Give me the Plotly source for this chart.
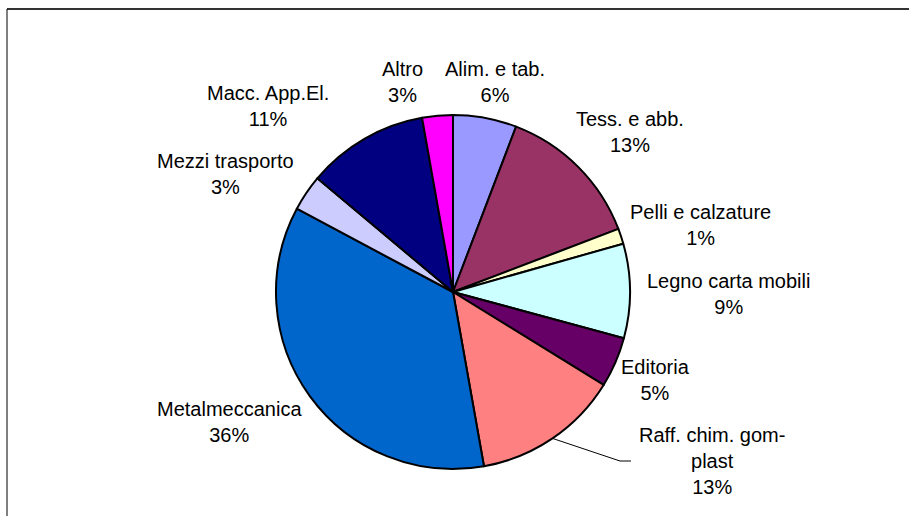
import math
import plotly.graph_objects as go

# dati del grafico
settori = ['Alim. e tab.', 'Tess. e abb.', 'Pelli e calzature', 'Legno carta mobili', 'Editoria',
           'Raff. chim. gom-<br>plast', 'Metalmeccanica', 'Mezzi trasporto', 'Macc. App.El.', 'Altro']
valori = [5.8, 13.4, 1.4, 8.6, 4.6, 13.4, 35.6, 3.3, 11.1, 2.8]
percentuali = ['6%', '13%', '1%', '9%', '5%', '13%', '36%', '3%', '11%', '3%']
colori = ['#9999FF', '#993366', '#FFFFCC', '#CCFFFF', '#660066',
          '#FF8080', '#0066CC', '#CCCCFF', '#000080', '#FF00FF']

W, H = 909, 516
CX, CY, R = 453, 292, 177  # centro e raggio della torta in pixel


def px(x):
    return x / W


def py(y):
    return 1 - y / H


# posizione (centro, pixel) delle etichette
pos_etichette = [(495, 82), (630, 132), (700, 225), (728, 294), (655, 380),
                 (712, 461), (229, 422), (225, 174), (268, 106), (402, 82)]

fig = go.Figure(go.Pie(
    labels=settori,
    values=valori,
    sort=False,
    direction='clockwise',
    rotation=0,
    marker=dict(colors=colori, line=dict(color='black', width=2)),
    textinfo='none',
    hoverinfo='label+percent',
    showlegend=False,
    domain=dict(x=[px(CX - R), px(CX + R)], y=[py(CY + R), py(CY - R)]),
))

for nome, perc, (x, y) in zip(settori, percentuali, pos_etichette):
    fig.add_annotation(x=px(x), y=py(y), xref='paper', yref='paper',
                       text=nome + '<br>' + perc, showarrow=False,
                       xanchor='center', yanchor='middle',
                       font=dict(family='Liberation Sans, Arial', size=20, color='black'))

# linea di richiamo per Raff. chim.
i = 5
cum = sum(valori[:i]) + valori[i] / 2
ang = 2 * math.pi * cum / sum(valori)
ex, ey = CX + R * math.sin(ang), CY - R * math.cos(ang)
fig.add_shape(type='path', xref='paper', yref='paper',
              path=f'M {px(ex)} {py(ey)} L {px(620)} {py(461)} L {px(631)} {py(461)}',
              line=dict(color='black', width=1))

# cornice del grafico
fig.add_shape(type='line', xref='paper', yref='paper', x0=px(7), y0=py(9), x1=1, y1=py(9),
              line=dict(color='#333333', width=2))
fig.add_shape(type='line', xref='paper', yref='paper', x0=px(7), y0=py(9), x1=px(7), y1=0,
              line=dict(color='black', width=1))

fig.update_layout(
    width=W, height=H,
    margin=dict(l=0, r=0, t=0, b=0),
    paper_bgcolor='white',
    plot_bgcolor='white',
)

fig.write_html('out.html', config={'displayModeBar': False},
               post_script="document.body.style.margin='0';document.body.style.overflow='hidden';")
